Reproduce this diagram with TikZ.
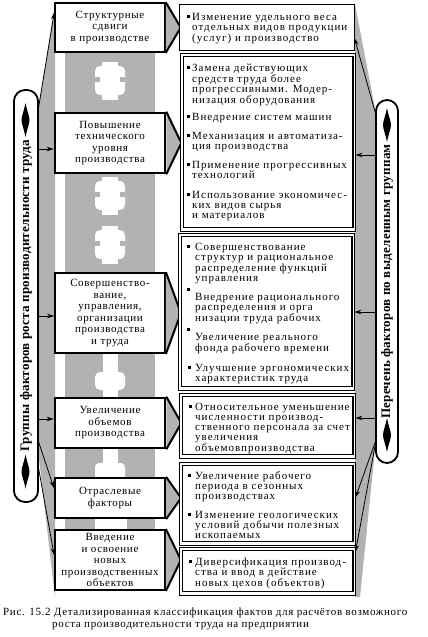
\documentclass[tikz,border=0pt]{standalone}
\usepackage{fontspec}
\setmainfont{Liberation Serif}
\newfontfamily\trk[LetterSpace=6]{Liberation Serif}
\newfontfamily\trki[LetterSpace=9]{Liberation Serif}
\newfontfamily\trkb[LetterSpace=2]{Liberation Serif}
\usetikzlibrary{arrows.meta}
\definecolor{bandgray}{RGB}{178,178,178}
\newcommand\bsq{\rule[1.8pt]{2.8pt}{2.8pt}}
\newcommand\itm[2]{\makebox[#1][l]{\bsq}\parbox[t]{172pt}{\fontsize{11}{10}\selectfont #2}}
\newcommand\itmr[2]{\makebox[#1][l]{\raisebox{7pt}{\bsq}}\parbox[t]{172pt}{\fontsize{11}{10}\selectfont #2}}
\newcommand\keyshape[1]{%
  \fill[white] (102,#1) rectangle (118,#1+38);
  \fill[white, rounded corners=5pt] (95,#1+4) rectangle (125,#1+33);
  \fill[bandgray] (95,#1+15) rectangle (100,#1+20);
  \fill[bandgray] (120,#1+15) rectangle (125,#1+20);}
\tikzset{
  lbox/.style={draw, fill=white, align=center, inner sep=0pt, minimum width=110pt,
    font=\trk\fontsize{11}{11.5}\selectfont},
  rbox/.style={draw, fill=white, line width=0.9pt, inner sep=0pt},
  inbox/.style={draw, line width=1.8pt},
  itemtext/.style={anchor=base west, inner sep=0pt, font=\trki\fontsize{11}{10}\selectfont},
  pill/.style={draw, fill=white, line width=1.8pt, rounded corners=11pt, inner sep=0pt},
  pilltext/.style={rotate=90, inner sep=0pt, font=\trkb\bfseries\fontsize{13}{13}\selectfont},
  arr/.style={line width=0.8pt, -{Stealth[length=7pt,width=4.5pt]}},
  chev/.style={line width=2pt, line join=miter},
  captext/.style={anchor=base west, inner sep=0pt, font=\trk\fontsize{11}{11}\selectfont},
}
\begin{document}
\begin{tikzpicture}[x=1pt,y=-1pt]
\useasboundingbox (0,0) rectangle (428,637);
% background bands
\fill[bandgray] (38,112) -- (55,4) -- (55,597) -- (38,450) -- cycle;
\fill[bandgray] (355,4) -- (376,114) -- (376,440) -- (360,597) -- (355,597) -- cycle;
\fill[bandgray] (65,52) rectangle (155,530);
% white spine
\keyshape{62}
\keyshape{177}
\keyshape{226}
\fill[white] (103,353) rectangle (118,398);
\fill[white, rounded corners=5pt] (95,372) rectangle (125,390);
\fill[white] (103,448) rectangle (118,478);
\fill[white, rounded corners=4pt] (95,463) rectangle (125,482);
\fill[white] (95,518) rectangle (127,530);

% left boxes
\node[lbox, line width=1.5pt, minimum height=49pt] (L1) at (110,27.5) {Структурные\\сдвиги\\в производстве};
\node[lbox, line width=2.6pt, minimum height=60pt] (L2) at (110,143) {Повышение\\технического\\уровня\\производства};
\node[lbox, line width=1.8pt, minimum height=80pt] (L3) at (110,313) {Совершенство-\\вание,\\управления,\\организации\\производства\\и труда};
\node[lbox, line width=2.6pt, minimum height=50pt] (L4) at (110,423) {Увеличение\\объемов\\производства};
\node[lbox, line width=2.2pt, minimum height=40pt] (L5) at (110,498) {Отраслевые\\факторы};
\node[lbox, line width=1.8pt, minimum height=60pt] (L6) at (110,560) {Введение\\и освоение\\новых\\производственных\\объектов};

% chevrons
\foreach \b in {L1,L2,L3,L4,L5,L6}{
  \fill[bandgray] (\b.north east) -- ([xshift=15pt]\b.east) -- (\b.south east) -- cycle;
  \draw[chev] (\b.north east) -- ([xshift=15pt]\b.east) -- (\b.south east);
}

% right boxes
\node[rbox, minimum width=175pt, minimum height=46pt] (R1) at (266.5,27) {};
\node[rbox, minimum width=175pt, minimum height=178pt] (R2) at (267.5,142) {};
\node[rbox, minimum width=176pt, minimum height=157pt] (R3) at (266,311.5) {};
\node[rbox, minimum width=176pt, minimum height=65pt] (R4) at (267,425.5) {};
\node[rbox, minimum width=176pt, minimum height=83pt] (R5) at (267,503.5) {};
\node[rbox, minimum width=176pt, minimum height=48pt] (R6) at (267,571) {};
\foreach \b in {R2,R3,R4,R5,R6}{
  \draw[inbox] ([shift={(4,4)}]\b.north west) rectangle ([shift={(-2.5,-4)}]\b.south east);
}

% right texts
\node[itemtext] (r1a) at (187,20) {\itm{5pt}{\fontsize{11}{10.5}\selectfont Изменение удельного веса\\отдельных видов продукции\\(услуг) и производство}};
\node[itemtext] (r2a) at (187,71) {\itm{5pt}{Замена действующих\\средств труда более\\прогрессивными. Модер-\\низация оборудования}};
\node[itemtext] (r2b) at (187,120) {\itm{5pt}{Внедрение систем машин}};
\node[itemtext] (r2c) at (187,139) {\itm{5pt}{Механизация и автоматиза-\\ция производства}};
\node[itemtext] (r2d) at (187,168) {\itm{5pt}{Применение прогрессивных\\технологий}};
\node[itemtext] (r2e) at (187,198) {\itm{5pt}{Использование экономичес-\\ких видов сырья\\и материалов}};
\node[itemtext] (r3a) at (187,250) {\itm{8pt}{Совершенствование\\структур и рациональное\\распределение функций\\управления}};
\node[itemtext] (r3b) at (187,300) {\itmr{8pt}{Внедрение рационального\\распределения и орга\\низации труда рабочих}};
\node[itemtext] (r3c) at (187,340) {\itmr{8pt}{Увеличение реального\\фонда рабочего времени}};
\node[itemtext] (r3d) at (188,371) {\itm{7pt}{Улучшение эргономических\\характеристик труда}};
\node[itemtext] (r4a) at (189,410) {\itm{6pt}{Относительное уменьшение\\численности производ-\\ственного персонала за счет\\увеличения\\объемовпроизводства}};
\node[itemtext] (r5a) at (188,479) {\itm{7pt}{Увеличение рабочего\\периода в сезонных\\производствах}};
\node[itemtext] (r5b) at (188,518) {\itm{7pt}{Изменение геологических\\условий добычи полезных\\ископаемых}};
\node[itemtext] (r6a) at (189,565) {\itm{6pt}{\fontsize{11}{10.5}\selectfont Диверсификация производ-\\ства и ввод в действие\\новых цехов (объектов)}};

% pills
\node[pill, minimum width=24pt, minimum height=412pt] (LP) at (26,296) {};
\node[pill, minimum width=22pt, minimum height=363pt] (RP) at (387,281.5) {};
\node[pilltext] (LPt) at (LP.center) {Группы факторов роста производительности труда};
\node[pilltext] (RPt) at (RP.center) {Перечень факторов по выделенным группам};
% spindles
\foreach \cx/\cy in {25.5/120, 25.5/471.5, 387/125, 387/435}{
  \fill (\cx,\cy-17) .. controls (\cx+1.5,\cy-9) and (\cx+4,\cy-4) .. (\cx+4,\cy)
     .. controls (\cx+4,\cy+4) and (\cx+1.5,\cy+9) .. (\cx,\cy+17)
     .. controls (\cx-1.5,\cy+9) and (\cx-4,\cy+4) .. (\cx-4,\cy)
     .. controls (\cx-4,\cy-4) and (\cx-1.5,\cy-9) .. cycle;
}

% connector start points
\coordinate (lp1) at (38,111);
\coordinate (lp2) at (38,149);
\coordinate (lp3) at (38,316);
\coordinate (lp4) at (38,419);
\coordinate (lp5) at (38,440);
\coordinate (lp6) at (38,465);
\coordinate (rp1) at (376,115);
\coordinate (rp2) at (376,155);
\coordinate (rp3) at (376,312);
\coordinate (rp4) at (376,418);
\coordinate (rp5) at (376,440);
\coordinate (rp6) at (375,446);

\draw[arr] (lp1) -- ([yshift=15pt]L1.west);
\draw[arr] (lp2) -- (lp2 -| L2.west);
\draw[arr] (lp3) -- (lp3 -| L3.west);
\draw[arr] (lp4) -- (lp4 -| L4.west);
\draw[arr] (lp5) -- ([yshift=10pt]L5.west);
\draw[arr] (lp6) -- ([yshift=5pt]L6.west);
\draw[arr] (rp1) -- ([yshift=-11pt]R1.east);
\draw[arr] (rp2) -- (rp2 -| R2.east);
\draw[arr] (rp3) -- (rp3 -| R3.east);
\draw[arr] (rp4) -- (rp4 -| R4.east);
\draw[arr] (rp5) -- ([yshift=6pt]R5.east);
\draw[arr] (rp6) -- ([yshift=19pt]R6.east);

% caption
\node[captext] (cap1) at (3,615) {Рис. 15.2 Детализированная классификация фактов для расчётов возможного};
\node[captext] (cap2) at (52,627) {роста производительности труда на предприятии};
\end{tikzpicture}
\end{document}
